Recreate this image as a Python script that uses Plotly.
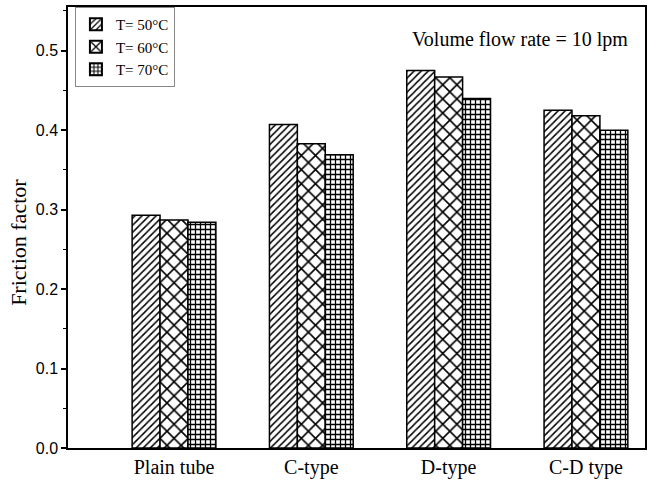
import plotly.graph_objects as go

categories = ["Plain tube", "C-type", "D-type", "C-D type"]
series_names = ["T= 50\u00b0C", "T= 60\u00b0C", "T= 70\u00b0C"]
vals_50 = [0.293, 0.407, 0.475, 0.425]
vals_60 = [0.287, 0.383, 0.467, 0.418]
vals_70 = [0.284, 0.369, 0.440, 0.400]
y_ticks = [0.0, 0.1, 0.2, 0.3, 0.4, 0.5]

patterns = [dict(shape="/", size=5, solidity=0.3),
            dict(shape="x", size=10, solidity=0.3),
            dict(shape="+", size=5, solidity=0.45)]

fig = go.Figure()
for name, vals, pat in zip(series_names, [vals_50, vals_60, vals_70], patterns):
    fig.add_trace(go.Bar(
        x=categories, y=vals, name=name,
        marker=dict(color="white", line=dict(color="black", width=1.5),
                    pattern=dict(fgcolor="black", bgcolor="white", fillmode="replace", **pat)),
    ))

fig.update_layout(
    width=657, height=484,
    margin=dict(l=68, r=12, t=5, b=35),
    paper_bgcolor="white", plot_bgcolor="white",
    barmode="group", bargap=0.39, bargroupgap=0,
    showlegend=True,
    legend=dict(x=0.012, y=1.0, xanchor="left", yanchor="top",
                bordercolor="#888", borderwidth=1, bgcolor="white",
                font=dict(family="Liberation Serif", size=15, color="black"),
                tracegroupgap=0, itemsizing="constant"),
    font=dict(family="Liberation Sans", color="black"),
)
fig.update_xaxes(
    range=[-0.772, 3.43], showline=True, mirror=True, linecolor="black", linewidth=1.5,
    ticks="", showgrid=False,
    tickfont=dict(family="Liberation Serif", size=20, color="black"),
)
fig.update_yaxes(
    range=[0, 0.555], tickvals=y_ticks, tickformat=".1f",
    showline=True, mirror=True, linecolor="black", linewidth=1.5,
    ticks="outside", ticklen=5, tickwidth=1.5, tickcolor="black",
    minor=dict(dtick=0.05, ticks="outside", ticklen=3, tickcolor="black", tickwidth=1.2),
    showgrid=False, zeroline=False,
    tickfont=dict(family="Liberation Sans", size=16, color="black"),
)
fig.add_annotation(
    x=-0.086, y=0.466, xref="paper", yref="paper", xanchor="center", yanchor="middle",
    text="Friction factor", showarrow=False, textangle=-90,
    font=dict(family="Liberation Serif", size=22, color="black"),
)
fig.add_annotation(
    x=0.974, y=0.926, xref="paper", yref="paper", xanchor="right", yanchor="middle",
    text="Volume flow rate = 10 lpm", showarrow=False,
    font=dict(family="Liberation Serif", size=20, color="black"),
)

fig.write_html("out.html")
